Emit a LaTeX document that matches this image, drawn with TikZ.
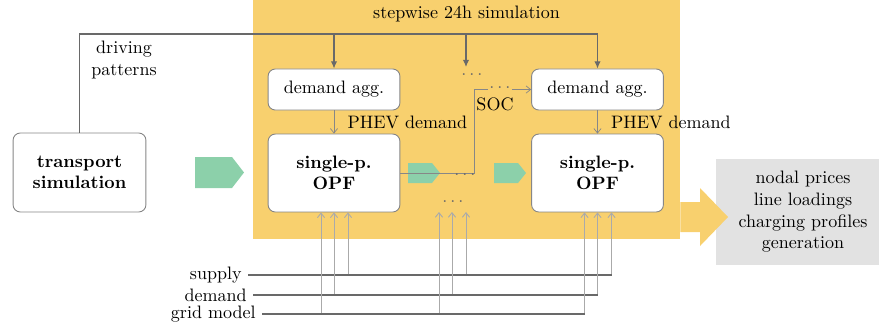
\documentclass[tikz,border=0pt]{standalone}
\usetikzlibrary{arrows.meta,calc}
\definecolor{simyel}{RGB}{248,208,110}
\definecolor{mint}{RGB}{140,208,170}
\definecolor{outgray}{RGB}{226,226,226}
\definecolor{boxline}{RGB}{135,135,135}
\definecolor{linegray}{RGB}{105,105,105}
\definecolor{inpgray}{RGB}{170,170,170}
\tikzset{
	box/.style={draw=boxline, line width=0.5pt, fill=white, rounded corners=4pt, align=center, inner sep=0pt},
	aggbox/.style={box, minimum width=2.57cm, minimum height=0.80cm},
	opfbox/.style={box, minimum width=2.57cm, minimum height=1.52cm, font=\bfseries},
	outbox/.style={fill=outgray, minimum width=3.39cm, minimum height=2.07cm, align=center},
	simbox/.style={fill=simyel, minimum width=8.33cm, minimum height=4.66cm, inner sep=0pt},
	ctrl/.style={draw=linegray, line width=0.6pt, -{Latex[length=4pt,width=3.5pt]}},
	feed/.style={draw=linegray, line width=0.6pt},
	inp/.style={draw=inpgray, line width=0.5pt, -{Straight Barb[length=2.5pt,width=4pt]}},
	thinarr/.style={draw=boxline, line width=0.4pt, -{Straight Barb[length=2.5pt,width=4pt]}},
	ellip/.style={inner sep=1pt, text=linegray}
}

\begin{document}
\begin{tikzpicture}[x=0.0195cm, y=-0.0195cm]
	\useasboundingbox (0,0) rectangle (879,324);
	\node (sim) [simbox] at (466.5,119.5) {};
	\node (title) [anchor=north] at (sim.north) {stepwise 24h simulation};
	%
	\node (trans) [box, minimum width=2.59cm, minimum height=1.54cm, font=\bfseries] at (79.5,172.5) {transport\\simulation};
	\node (agg1) [aggbox] at (334,89.5) {demand agg.};
	\node (agg2) [aggbox] at (597.5,89.5) {demand agg.};
	\node (opf1) [opfbox] at (334,173) {single-p.\\OPF};
	\node (opf2) [opfbox] at (597.5,173) {single-p.\\OPF};
	\node (out) [outbox] at (803,212) {nodal prices\\line loadings\\charging profiles\\generation};
	%
	\fill[mint] (195,157) -- (232,157) -- (244,172.5) -- (232,188) -- (195,188) -- cycle;
	\foreach \dx in {0,86}
		\fill[mint] (408+\dx,163) -- (432+\dx,163) -- (440+\dx,173) -- (432+\dx,183) -- (408+\dx,183) -- cycle;
	%
	\coordinate (top) at (0,34);
	\coordinate (skip) at (466,67);
	\draw[ctrl] (trans.north) |- (agg2.north |- top) -- (agg2.north);
	\draw[ctrl] (agg1.north |- top) -- (agg1.north);
	\draw[ctrl] (skip |- top) -- (skip);
	\node (dots1) [ellip] at (472,75) {$\ldots$};
	\node (drv) [align=center] at (124,60) {driving\\patterns};
	%
	\draw[thinarr] (agg1.south) -- node[right=4pt] (phev1) {PHEV demand} (opf1.north);
	\draw[thinarr] (agg2.south) -- node[right=4pt] (phev2) {PHEV demand} (opf2.north);
	%
	\draw[thinarr] (opf1.east) -- ++(74,0) coordinate (bend) |- (agg2.west);
	\node (dots2) [ellip, fill=simyel] at (500,88) {$\ldots$};
	\node (soc) at (495,104) {SOC};
	\node (dots3) [ellip] at (465,175) {$\ldots$};
	\node (dots4) [ellip] at (453,202) {$\ldots$};
	%
	\node (sup) [anchor=east] at (248,275) {supply};
	\node (dem) [anchor=east] at (253,295) {demand};
	\node (grd) [anchor=east] at (262,314) {grid model};
	\coordinate (mid) at (452,212);
	\foreach \t/\dx in {sup/14,dem/0,grd/-13}{
		\foreach \o [count=\i] in {opf1.south,mid,opf2.south}{
			\path ($(\o)+(\dx,0)$) coordinate (\t-\i);
			\draw[inp] (\t-\i |- \t.east) -- (\t-\i);
		}
		\draw[feed] (\t.east) -- (\t-3 |- \t.east);
	}
	%
	\fill[simyel] (sim.east |- 0,202) -- (700,202) -- (700,188) -- (728,217) -- (700,246) -- (700,232) -- (sim.east |- 0,232) -- cycle;
\end{tikzpicture}
\end{document}
